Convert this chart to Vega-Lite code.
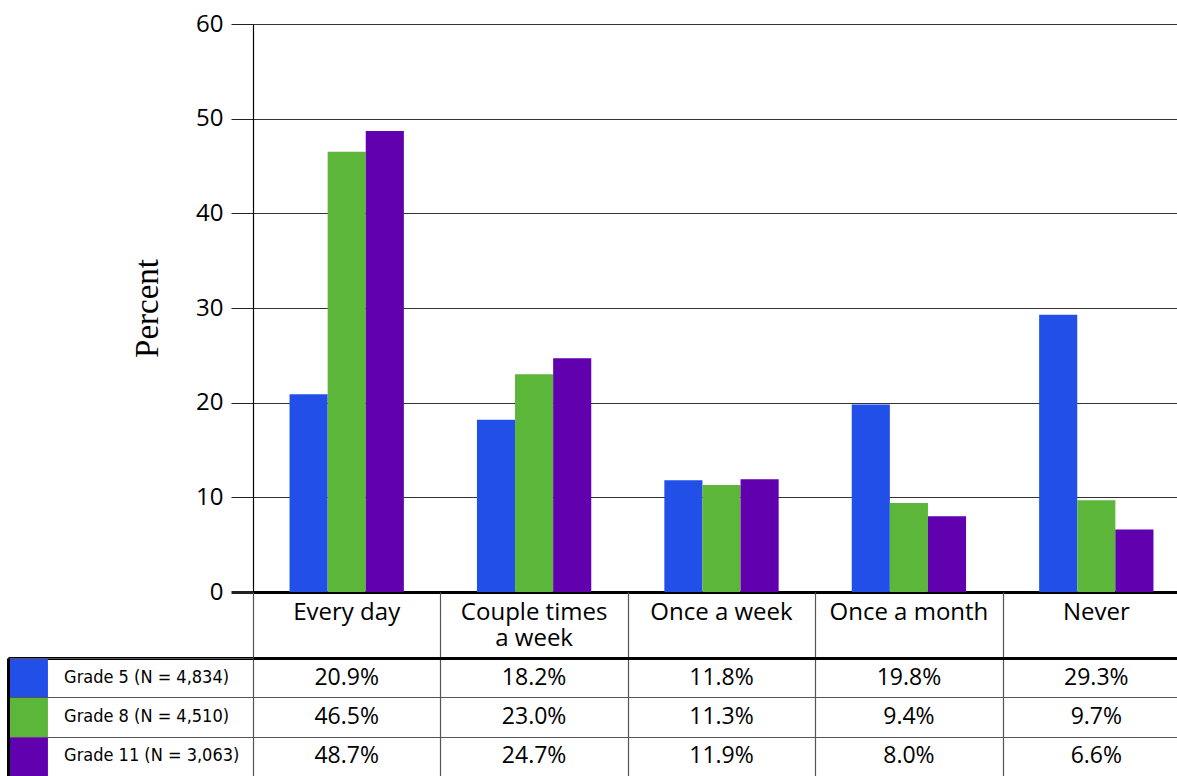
{
  "$schema": "https://vega.github.io/schema/vega-lite/v6.json",
  "padding": {"left": 8, "top": 12, "right": 0, "bottom": 0},
  "background": "white",
  "config": {"view": {"stroke": null}, "font": "Open Sans"},
  "datasets": {
    "survey": [
      {"freq": "Every day", "grade": "Grade 5 (N = 4,834)", "pct": 20.9},
      {"freq": "Every day", "grade": "Grade 8 (N = 4,510)", "pct": 46.5},
      {"freq": "Every day", "grade": "Grade 11 (N = 3,063)", "pct": 48.7},
      {"freq": "Couple times a week", "grade": "Grade 5 (N = 4,834)", "pct": 18.2},
      {"freq": "Couple times a week", "grade": "Grade 8 (N = 4,510)", "pct": 23.0},
      {"freq": "Couple times a week", "grade": "Grade 11 (N = 3,063)", "pct": 24.7},
      {"freq": "Once a week", "grade": "Grade 5 (N = 4,834)", "pct": 11.8},
      {"freq": "Once a week", "grade": "Grade 8 (N = 4,510)", "pct": 11.3},
      {"freq": "Once a week", "grade": "Grade 11 (N = 3,063)", "pct": 11.9},
      {"freq": "Once a month", "grade": "Grade 5 (N = 4,834)", "pct": 19.8},
      {"freq": "Once a month", "grade": "Grade 8 (N = 4,510)", "pct": 9.4},
      {"freq": "Once a month", "grade": "Grade 11 (N = 3,063)", "pct": 8.0},
      {"freq": "Never", "grade": "Grade 5 (N = 4,834)", "pct": 29.3},
      {"freq": "Never", "grade": "Grade 8 (N = 4,510)", "pct": 9.7},
      {"freq": "Never", "grade": "Grade 11 (N = 3,063)", "pct": 6.6}
    ],
    "grades": [
      {"grade": "Grade 5 (N = 4,834)"},
      {"grade": "Grade 8 (N = 4,510)"},
      {"grade": "Grade 11 (N = 3,063)"}
    ]
  },
  "columns": 2,
  "bounds": "flush",
  "align": "each",
  "spacing": 0,
  "resolve": {"scale": {"x": "independent", "y": "independent", "color": "shared"}},
  "concat": [
    {
      "width": 245, "height": 568,
      "data": {"values": [{}]},
      "mark": {"type": "text"},
      "encoding": {"text": {"value": ""}}
    },
    {
      "width": 937, "height": 568,
      "data": {"name": "survey"},
      "mark": {"type": "bar"},
      "encoding": {
        "x": {
          "field": "freq", "type": "nominal",
          "sort": ["Every day", "Couple times a week", "Once a week", "Once a month", "Never"],
          "scale": {"paddingInner": 0.39, "paddingOuter": 0.195},
          "axis": {
            "orient": "bottom", "title": null, "ticks": false,
            "domain": true, "domainColor": "#000", "domainWidth": 3,
            "labelFontSize": 24, "labelColor": "#000", "labelPadding": 8,
            "labelAngle": 0, "labelBaseline": "top", "labelLineHeight": 26,
            "labelFont": "Open Sans", "labelLimit": 300,
            "labelExpr": "datum.value == 'Couple times a week' ? ['Couple times', 'a week'] : datum.value"
          }
        },
        "xOffset": {
          "field": "grade", "type": "nominal",
          "sort": ["Grade 5 (N = 4,834)", "Grade 8 (N = 4,510)", "Grade 11 (N = 3,063)"],
          "scale": {"paddingInner": 0, "paddingOuter": 0}
        },
        "y": {
          "field": "pct", "type": "quantitative",
          "scale": {"domain": [0, 60], "nice": false},
          "axis": {
            "values": [0, 10, 20, 30, 40, 50, 60],
            "tickSize": 22, "tickColor": "#222",
            "tickWidth": {"condition": {"test": "datum.value === 0", "value": 3}, "value": 1},
            "labelFontSize": 24, "labelColor": "#000", "labelPadding": 8, "labelFont": "Open Sans",
            "domain": true, "domainColor": "#000", "domainWidth": 1.2,
            "grid": true, "gridColor": "#333", "gridOpacity": 1, "gridWidth": 1,
            "title": "Percent", "titleFont": "Liberation Serif", "titleFontSize": 33,
            "titleFontWeight": "normal", "titleColor": "#000", "titlePadding": 31
          }
        },
        "color": {
          "field": "grade", "type": "nominal",
          "scale": {
            "domain": ["Grade 5 (N = 4,834)", "Grade 8 (N = 4,510)", "Grade 11 (N = 3,063)"],
            "range": ["#214FE8", "#5CB639", "#6000AF"]
          },
          "legend": null
        }
      }
    },
    {
      "width": 245, "height": 66,
      "data": {"values": [{}]},
      "mark": {"type": "text"},
      "encoding": {"text": {"value": ""}}
    },
    {
      "width": 937, "height": 66,
      "data": {"name": "survey"},
      "mark": {"type": "text"},
      "encoding": {
        "x": {
          "field": "freq", "type": "nominal",
          "sort": ["Every day", "Couple times a week", "Once a week", "Once a month", "Never"],
          "scale": {"paddingInner": 0, "paddingOuter": 0},
          "axis": {
            "orient": "top", "title": null, "labels": false, "ticks": false, "domain": false,
            "grid": true, "tickBand": "extent", "gridColor": "#555", "gridWidth": 1.2, "gridOpacity": 1
          }
        },
        "text": {"value": ""}
      }
    },
    {
      "width": 245, "height": 118,
      "data": {"name": "grades"},
      "layer": [
        {
          "mark": {"type": "rect"},
          "encoding": {
            "y": {
              "field": "grade", "type": "nominal",
              "sort": ["Grade 5 (N = 4,834)", "Grade 8 (N = 4,510)", "Grade 11 (N = 3,063)"],
              "scale": {"paddingInner": 0, "paddingOuter": 0},
              "axis": {
                "title": null, "labels": false, "ticks": false,
                "domain": true, "domainColor": "#000", "domainWidth": 3,
                "grid": true, "tickBand": "extent", "gridColor": "#555", "gridWidth": 1.2, "gridOpacity": 1
              }
            },
            "x": {
              "datum": 0, "type": "quantitative",
              "scale": {"domain": [0, 1], "nice": false},
              "axis": {
                "orient": "top", "title": null, "labels": false, "ticks": false, "grid": false,
                "domain": true, "domainColor": "#000", "domainWidth": 3
              }
            },
            "x2": {"datum": 0.163},
            "color": {"field": "grade", "type": "nominal", "legend": null}
          }
        },
        {
          "mark": {"type": "text", "align": "left", "font": "DejaVu Sans Condensed", "fontSize": 18, "color": "#000"},
          "encoding": {
            "y": {
              "field": "grade", "type": "nominal",
              "sort": ["Grade 5 (N = 4,834)", "Grade 8 (N = 4,510)", "Grade 11 (N = 3,063)"]
            },
            "x": {"datum": 0.229, "type": "quantitative"},
            "text": {"field": "grade"}
          }
        }
      ]
    },
    {
      "width": 937, "height": 118,
      "data": {"name": "survey"},
      "mark": {
        "type": "text", "fontSize": 23, "font": "Open Sans", "color": "#000",
        "text": {"expr": "format(datum.pct, '.1f') + '%'"}
      },
      "encoding": {
        "x": {
          "field": "freq", "type": "nominal",
          "sort": ["Every day", "Couple times a week", "Once a week", "Once a month", "Never"],
          "scale": {"paddingInner": 0, "paddingOuter": 0},
          "axis": {
            "orient": "top", "title": null, "labels": false, "ticks": false,
            "domain": true, "domainColor": "#000", "domainWidth": 3,
            "grid": true, "tickBand": "extent", "gridColor": "#555", "gridWidth": 1.2, "gridOpacity": 1
          }
        },
        "y": {
          "field": "grade", "type": "nominal",
          "sort": ["Grade 5 (N = 4,834)", "Grade 8 (N = 4,510)", "Grade 11 (N = 3,063)"],
          "scale": {"paddingInner": 0, "paddingOuter": 0},
          "axis": {
            "title": null, "labels": false, "ticks": false, "domain": false,
            "grid": true, "tickBand": "extent", "gridColor": "#555", "gridWidth": 1.2, "gridOpacity": 1
          }
        }
      }
    }
  ]
}
